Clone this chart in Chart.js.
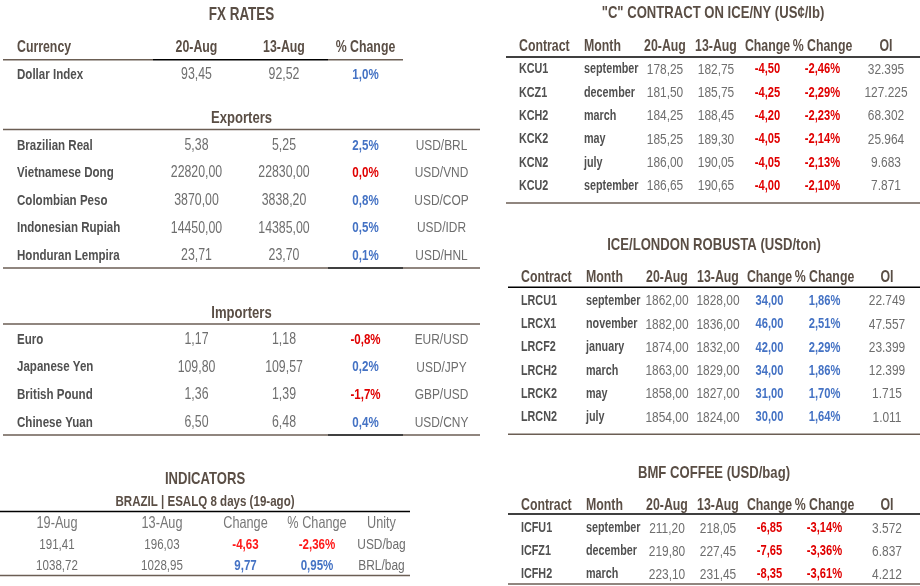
<!DOCTYPE html>
<html>
<head>
<meta charset="utf-8">
<script src="https://cdn.jsdelivr.net/npm/chart.js@4.4.1/dist/chart.umd.min.js"></script>
<style>
  html, body { margin: 0; padding: 0; background: #fff; }
  #page { position: relative; width: 920px; height: 586px; overflow: hidden; }
  .tbl { position: absolute; }
</style>
</head>
<body>
<div id="page">
  <div class="tbl" style="left:0;top:0;width:480px;height:90px"><canvas id="fx"></canvas></div>
  <div class="tbl" style="left:0;top:100px;width:480px;height:172px"><canvas id="exp"></canvas></div>
  <div class="tbl" style="left:0;top:295px;width:480px;height:145px"><canvas id="imp"></canvas></div>
  <div class="tbl" style="left:0;top:462px;width:410px;height:124px"><canvas id="ind"></canvas></div>
  <div class="tbl" style="left:500px;top:0;width:420px;height:210px"><canvas id="ny"></canvas></div>
  <div class="tbl" style="left:500px;top:220px;width:420px;height:220px"><canvas id="ldn"></canvas></div>
  <div class="tbl" style="left:500px;top:440px;width:420px;height:146px"><canvas id="bmf"></canvas></div>
</div>
<script>
// ---- data ----
const fxHeader = ['Currency', '20-Aug', '13-Aug', '% Change'];
const indexNames = ['Dollar Index'];
const indexAug20 = [93.45];
const indexAug13 = [92.52];
const indexPct = [1.0];

const exporterNames = ['Brazilian Real', 'Vietnamese Dong', 'Colombian Peso', 'Indonesian Rupiah', 'Honduran Lempira'];
const exporterAug20 = [5.38, 22820.00, 3870.00, 14450.00, 23.71];
const exporterAug13 = [5.25, 22830.00, 3838.20, 14385.00, 23.70];
const exporterPct = [2.5, 0.0, 0.8, 0.5, 0.1];
const exporterPairs = ['USD/BRL', 'USD/VND', 'USD/COP', 'USD/IDR', 'USD/HNL'];

const importerNames = ['Euro', 'Japanese Yen', 'British Pound', 'Chinese Yuan'];
const importerAug20 = [1.17, 109.80, 1.36, 6.50];
const importerAug13 = [1.18, 109.57, 1.39, 6.48];
const importerPct = [-0.8, 0.2, -1.7, 0.4];
const importerPairs = ['EUR/USD', 'USD/JPY', 'GBP/USD', 'USD/CNY'];

const indicatorHeader = ['19-Aug', '13-Aug', 'Change', '% Change', 'Unity'];
const esalqAug19 = [191.41, 1038.72];
const esalqAug13 = [196.03, 1028.95];
const esalqChange = [-4.63, 9.77];
const esalqPct = [-2.36, 0.95];
const esalqUnits = ['USD/bag', 'BRL/bag'];

const contractHeader = ['Contract', 'Month', '20-Aug', '13-Aug', 'Change', '% Change', 'OI'];

const nyCodes = ['KCU1', 'KCZ1', 'KCH2', 'KCK2', 'KCN2', 'KCU2'];
const nyMonths = ['september', 'december', 'march', 'may', 'july', 'september'];
const nyAug20 = [178.25, 181.50, 184.25, 185.25, 186.00, 186.65];
const nyAug13 = [182.75, 185.75, 188.45, 189.30, 190.05, 190.65];
const nyChange = [-4.50, -4.25, -4.20, -4.05, -4.05, -4.00];
const nyPct = [-2.46, -2.29, -2.23, -2.14, -2.13, -2.10];
const nyOI = [32395, 127225, 68302, 25964, 9683, 7871];

const ldnCodes = ['LRCU1', 'LRCX1', 'LRCF2', 'LRCH2', 'LRCK2', 'LRCN2'];
const ldnMonths = ['september', 'november', 'january', 'march', 'may', 'july'];
const ldnAug20 = [1862, 1882, 1874, 1863, 1858, 1854];
const ldnAug13 = [1828, 1836, 1832, 1829, 1827, 1824];
const ldnChange = [34, 46, 42, 34, 31, 30];
const ldnPct = [1.86, 2.51, 2.29, 1.86, 1.70, 1.64];
const ldnOI = [22749, 47557, 23399, 12399, 1715, 1011];

const bmfCodes = ['ICFU1', 'ICFZ1', 'ICFH2'];
const bmfMonths = ['september', 'december', 'march'];
const bmfAug20 = [211.20, 219.80, 223.10];
const bmfAug13 = [218.05, 227.45, 231.45];
const bmfChange = [-6.85, -7.65, -8.35];
const bmfPct = [-3.14, -3.36, -3.61];
const bmfOI = [3572, 6837, 4212];

// ---- styles ----
const FONT = '"Liberation Sans", Arial, sans-serif';
const NARROW = 0.77; // squeeze text horizontally, the source uses a narrow face
const TITLE = '#5a4e45';
const HEAD = '#5a4e45';
const LABEL = '#505050';
const VALUE = '#6e6e6e';
const BLUE = '#4472c4';
const RED = '#e00000';
const BROWN = '#6b5e54';
const BLACK = '#000000';

Chart.defaults.font.family = FONT;

const fmt = (v, d) => v.toFixed(d).replace('.', ',');
const fmtOI = (v) => String(v).replace(/\B(?=(\d{3})+(?!\d))/g, '.');
const cell = (text, color, size, weight) => ({ text, color, size, weight: weight || 'normal' });

const LEFT_COLS = [{ w: 150, align: 'left', pad: 14 }, { w: 87 }, { w: 88 }, { w: 75 }, { w: 77 }];
const IND_COLS = [{ w: 114 }, { w: 96 }, { w: 71 }, { w: 72 }, { w: 57 }];
const rightCols = (last) => [
  { w: 74, align: 'left', pad: 13 }, { w: 60, align: 'left', pad: 4 },
  { w: 50 }, { w: 52 }, { w: 51 }, { w: 59 }, { w: last }
];

function narrowText(ctx, text, x, y, align, font, color) {
  ctx.save();
  ctx.font = font;
  ctx.fillStyle = color;
  ctx.textAlign = align;
  ctx.textBaseline = 'middle';
  ctx.translate(x, y);
  ctx.scale(NARROW, 1);
  ctx.fillText(text, 0, 0);
  ctx.restore();
}

// draws each cell's text on its (invisible) bar, the titles and the rule lines
const tableCells = {
  id: 'tableCells',
  afterDatasetsDraw(chart, args, opts) {
    const { ctx, chartArea } = chart;
    const y = chart.scales.y;
    const midX = (chartArea.left + chartArea.right) / 2;
    (opts.titles || []).forEach((t) => {
      narrowText(ctx, t.text, midX, t.y, 'center', `bold ${t.size}px ${FONT}`, TITLE);
    });
    chart.data.datasets.forEach((ds, c) => {
      chart.getDatasetMeta(c).data.forEach((bar, r) => {
        const cl = ds.cells[r];
        if (!cl) return;
        const font = `${cl.weight} ${cl.size}px ${FONT}`;
        if (ds.align === 'left') {
          narrowText(ctx, cl.text, bar.base + ds.pad, bar.y, 'left', font, cl.color);
        } else {
          narrowText(ctx, cl.text, (bar.base + bar.x) / 2, bar.y, 'center', font, cl.color);
        }
      });
    });
    ctx.save();
    ctx.lineWidth = 1.5;
    (opts.lines || []).forEach((line) => {
      const py = y.getPixelForValue(line.after - 0.5) + (line.offset || 0);
      line.segments.forEach((seg) => {
        const a = chart.getDatasetMeta(seg[0]).data[0];
        const b = chart.getDatasetMeta(seg[1]).data[0];
        ctx.strokeStyle = seg[2];
        ctx.beginPath();
        ctx.moveTo(a.base, py);
        ctx.lineTo(b.x, py);
        ctx.stroke();
      });
    });
    ctx.restore();
  }
};

function makeTable(id, cfg) {
  const cols = cfg.cols;
  const total = cols.reduce((s, c) => s + c.w, 0);
  const datasets = cols.map((col, c) => ({
    data: cfg.rows.map(() => col.w),
    cells: cfg.rows.map((row) => row[c] || null),
    align: col.align || 'center',
    pad: col.pad || 0,
    backgroundColor: 'rgba(0,0,0,0)',
    borderWidth: 0,
    barPercentage: 1,
    categoryPercentage: 1
  }));
  return new Chart(document.getElementById(id), {
    type: 'bar',
    data: { labels: cfg.rows.map((_, i) => i), datasets },
    options: {
      indexAxis: 'y',
      responsive: true,
      maintainAspectRatio: false,
      animation: false,
      events: [],
      layout: { padding: cfg.padding },
      scales: {
        x: { type: 'linear', stacked: true, display: false, min: 0, max: total },
        y: { stacked: true, display: false }
      },
      plugins: {
        legend: { display: false },
        tooltip: { enabled: false },
        tableCells: { titles: cfg.titles, lines: cfg.lines }
      }
    },
    plugins: [tableCells]
  });
}

// FX rows
const fxRow = (name, a20, a13, pct, pair) => [
  cell(name, LABEL, 15, 'bold'),
  cell(fmt(a20, 2), VALUE, 16),
  cell(fmt(a13, 2), VALUE, 16),
  cell(fmt(pct, 1) + '%', a20 < a13 ? RED : BLUE, 15, 'bold'),
  pair ? cell(pair, VALUE, 15.5) : null
];

makeTable('fx', {
  titles: [{ text: 'FX RATES', size: 17.5, y: 15 }],
  padding: { left: 3, right: 0, top: 34.2, bottom: 1.75 },
  cols: LEFT_COLS,
  rows: [
    fxHeader.map((h) => cell(h, HEAD, 16, 'bold')),
    ...indexNames.map((n, i) => fxRow(n, indexAug20[i], indexAug13[i], indexPct[i], null))
  ],
  lines: [{ after: 1, offset: -1.5, segments: [[0, 0, BROWN], [1, 2, BLACK], [3, 3, BROWN]] }]
});

makeTable('exp', {
  titles: [{ text: 'Exporters', size: 17, y: 18 }],
  padding: { left: 3, right: 0, top: 31.6, bottom: 2.4 },
  cols: LEFT_COLS,
  rows: exporterNames.map((n, i) => fxRow(n, exporterAug20[i], exporterAug13[i], exporterPct[i], exporterPairs[i])),
  lines: [
    { after: 0, offset: -2, segments: [[0, 4, BROWN]] },
    { after: 5, offset: -1.5, segments: [[0, 2, BROWN], [3, 3, BLACK], [4, 4, BROWN]] }
  ]
});

makeTable('imp', {
  titles: [{ text: 'Importers', size: 17, y: 18 }],
  padding: { left: 3, right: 0, top: 30.6, bottom: 3.4 },
  cols: LEFT_COLS,
  rows: importerNames.map((n, i) => fxRow(n, importerAug20[i], importerAug13[i], importerPct[i], importerPairs[i])),
  lines: [
    { after: 0, offset: -1.5, segments: [[0, 4, BROWN]] },
    { after: 4, offset: -1.5, segments: [[0, 2, BROWN], [3, 3, BLACK], [4, 4, BROWN]] }
  ]
});

// Indicators
const IND_RED = '#ff1a1a';
makeTable('ind', {
  titles: [
    { text: 'INDICATORS', size: 17, y: 17 },
    { text: 'BRAZIL | ESALQ 8 days (19-ago)', size: 15, y: 39.5 }
  ],
  padding: { left: 0, right: 0, top: 50.4, bottom: 9.6 },
  cols: IND_COLS,
  rows: [
    indicatorHeader.map((h) => cell(h, '#777777', 16.5)),
    ...esalqAug19.map((v, i) => [
      cell(fmt(v, 2), VALUE, 15),
      cell(fmt(esalqAug13[i], 2), VALUE, 15),
      cell(fmt(esalqChange[i], 2), esalqChange[i] < 0 ? IND_RED : BLUE, 15, 'bold'),
      cell(fmt(esalqPct[i], 2) + '%', esalqPct[i] < 0 ? IND_RED : BLUE, 15, 'bold'),
      cell(esalqUnits[i], VALUE, 15.5)
    ])
  ],
  lines: [
    { after: 0, offset: -1, segments: [[0, 4, BLACK]] },
    { after: 3, offset: -1, segments: [[0, 4, BROWN]] }
  ]
});

// Contracts
const contractRows = (codes, months, a20, a13, chg, pct, oi) => [
  contractHeader.map((h) => cell(h, HEAD, 16, 'bold')),
  ...codes.map((code, i) => [
    cell(code, LABEL, 14, 'bold'),
    cell(months[i], LABEL, 14, 'bold'),
    cell(fmt(a20[i], 2), VALUE, 15.5),
    cell(fmt(a13[i], 2), VALUE, 15.5),
    cell(fmt(chg[i], 2), chg[i] < 0 ? RED : BLUE, 14.5, 'bold'),
    cell(fmt(pct[i], 2) + '%', pct[i] < 0 ? RED : BLUE, 14.5, 'bold'),
    cell(fmtOI(oi[i]), VALUE, 15.5)
  ])
];

makeTable('ny', {
  titles: [{ text: '"C" CONTRACT ON ICE/NY (US¢/lb)', size: 17, y: 13 }],
  padding: { left: 6, right: 0, top: 34.5, bottom: 12.4 },
  cols: rightCols(68),
  rows: contractRows(nyCodes, nyMonths, nyAug20, nyAug13, nyChange, nyPct, nyOI),
  lines: [
    { after: 1, offset: -0.8, segments: [[0, 6, BLACK]] },
    { after: 7, offset: 5.4, segments: [[0, 6, BROWN]] }
  ]
});

makeTable('ldn', {
  titles: [{ text: 'ICE/LONDON ROBUSTA (USD/ton)', size: 17, y: 25 }],
  padding: { left: 8, right: 0, top: 46, bottom: 10.9 },
  cols: rightCols(66),
  rows: contractRows(ldnCodes, ldnMonths, ldnAug20, ldnAug13, ldnChange, ldnPct, ldnOI),
  lines: [
    { after: 1, offset: -2, segments: [[0, 6, BLACK]] },
    { after: 7, offset: 5.2, segments: [[0, 6, BROWN]] }
  ]
});

makeTable('bmf', {
  titles: [{ text: 'BMF COFFEE (USD/bag)', size: 17, y: 33.3 }],
  padding: { left: 8, right: 0, top: 53.8, bottom: 0.2 },
  cols: rightCols(66),
  rows: contractRows(bmfCodes, bmfMonths, bmfAug20, bmfAug13, bmfChange, bmfPct, bmfOI),
  lines: [
    { after: 1, offset: -2.8, segments: [[0, 6, BLACK]] },
    { after: 4, offset: -1.8, segments: [[0, 6, BROWN]] }
  ]
});
</script>
</body>
</html>
